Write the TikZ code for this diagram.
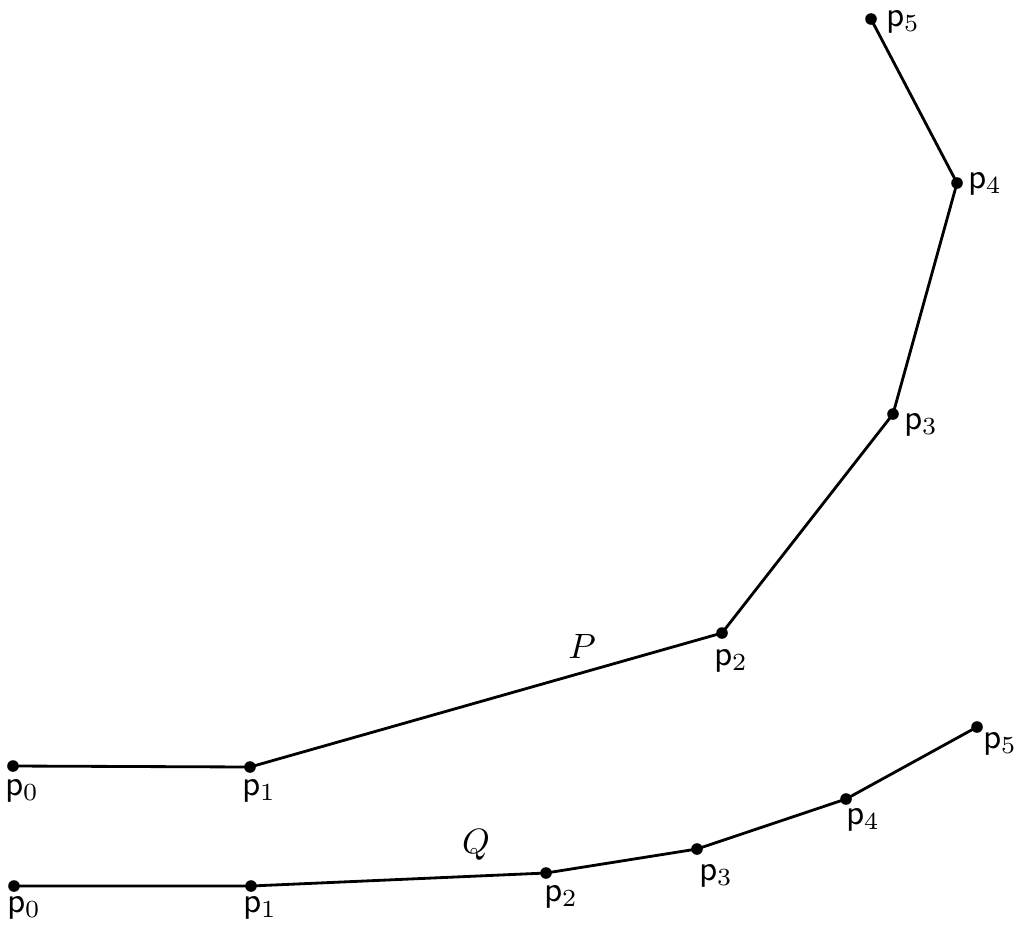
\documentclass[tikz,border=0pt]{standalone}
\begin{document}
\begin{tikzpicture}[x=0.01cm,y=-0.01cm,
  pt/.style={circle,fill=black,inner sep=0pt,minimum size=3.3pt},
  lbl/.style={inner sep=0pt},
  poly/.style={line width=0.8pt}]
\useasboundingbox (0,0) rectangle (1024,933);
% polygon P
\node[pt] (P0) at (13,766) {};
\node[pt] (P1) at (250,767) {};
\node[pt] (P2) at (722,633) {};
\node[pt] (P3) at (893,414) {};
\node[pt] (P4) at (957,183) {};
\node[pt] (P5) at (871,19) {};
\draw[poly] (P0.center) -- (P1.center) -- (P2.center) -- (P3.center) -- (P4.center) -- (P5.center);
\node[lbl] (lP0) at (22,791) {$\mathsf{p}_0$};
\node[lbl] (lP1) at (259,791) {$\mathsf{p}_1$};
\node[lbl] (lP2) at (731,661) {$\mathsf{p}_2$};
\node[lbl] (lP3) at (921,425) {$\mathsf{p}_3$};
\node[lbl] (lP4) at (985,184) {$\mathsf{p}_4$};
\node[lbl] (lP5) at (903,22) {$\mathsf{p}_5$};
\node[lbl] (Plab) at (582,646) {$P$};
% polygon Q
\node[pt] (Q0) at (14,886) {};
\node[pt] (Q1) at (251,886) {};
\node[pt] (Q2) at (546,873) {};
\node[pt] (Q3) at (697,849) {};
\node[pt] (Q4) at (846,799) {};
\node[pt] (Q5) at (977,727) {};
\draw[poly] (Q0.center) -- (Q1.center) -- (Q2.center) -- (Q3.center) -- (Q4.center) -- (Q5.center);
\node[lbl] (lQ0) at (24,908) {$\mathsf{p}_0$};
\node[lbl] (lQ1) at (260,908) {$\mathsf{p}_1$};
\node[lbl] (lQ2) at (561,897) {$\mathsf{p}_2$};
\node[lbl] (lQ3) at (716,876) {$\mathsf{p}_3$};
\node[lbl] (lQ4) at (863,820) {$\mathsf{p}_4$};
\node[lbl] (lQ5) at (1000,744) {$\mathsf{p}_5$};
\node[lbl] (Qlab) at (476,845) {$Q$};
\end{tikzpicture}
\end{document}
